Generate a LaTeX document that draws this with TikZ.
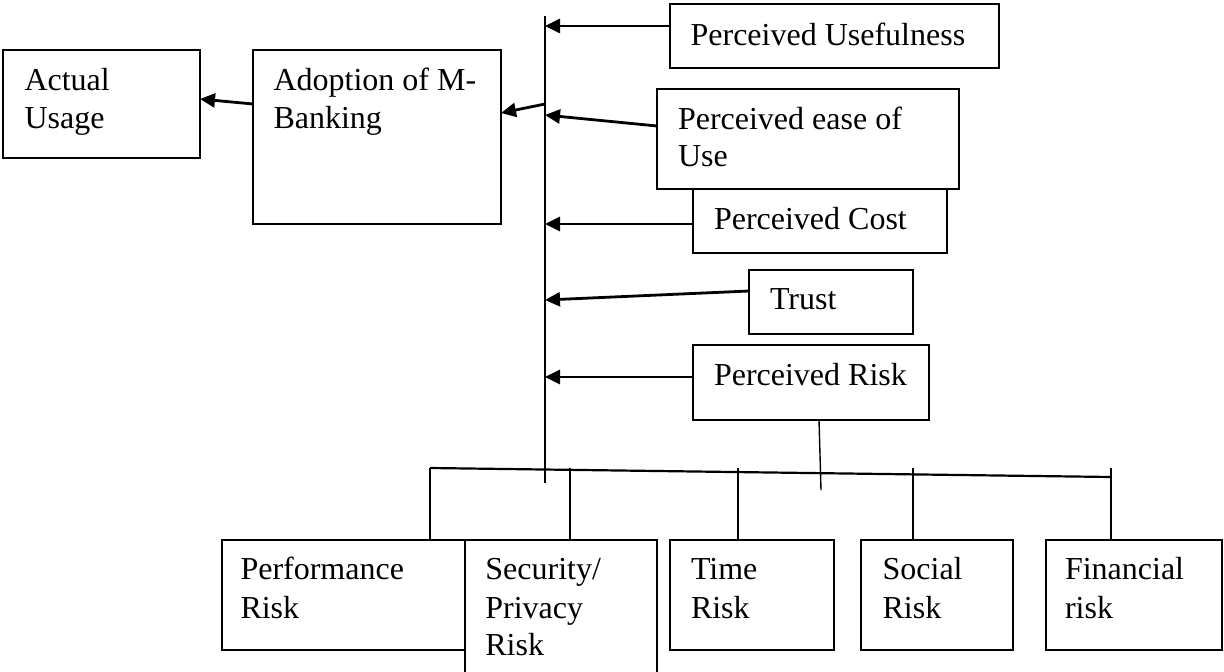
\documentclass[tikz,border=0pt]{standalone}
\usepackage{fontspec}
\setmainfont{Liberation Serif}
\usetikzlibrary{arrows.meta}
\begin{document}
\begin{tikzpicture}[x=1pt,y=-1pt,
  box/.style={draw, line width=1.8pt, inner sep=0pt, outer sep=0pt, anchor=north west},
  txt/.style={inner sep=0pt, outer sep=0pt, anchor=base west, font=\fontsize{32}{38}\selectfont},
  arr/.style={line width=2.8pt, -{Triangle[length=15pt,width=14pt]}},
  link/.style={line width=1.4pt},
  bus/.style={line width=2.2pt}]
\useasboundingbox (0,0) rectangle (1224,672);
\clip (0,0) rectangle (1224,672);

% outcome boxes
\node[box, minimum width=197pt, minimum height=108pt] (au) at (3,50) {};
\node[box, minimum width=248pt, minimum height=174pt] (ad) at (253,50) {};
\node[txt] (au1) at (24.5,90) {Actual};
\node[txt] (au2) at (24.5,128) {Usage};
\node[txt] (ad1) at (273.5,90) {Adoption of M-};
\node[txt] (ad2) at (273.5,128) {Banking};

% determinants
\node[box, minimum width=329pt, minimum height=64pt] (pu) at (670,4) {};
\node[box, minimum width=302pt, minimum height=100pt] (peu) at (657,89) {};
\node[box, minimum width=254pt, minimum height=64pt] (pc) at (693,189) {};
\node[box, minimum width=164pt, minimum height=64pt] (tr) at (749,270) {};
\node[box, minimum width=236pt, minimum height=75pt] (pr) at (693,345) {};
\node[txt] (pu1) at (690.6,45) {Perceived Usefulness};
\node[txt] (peu1) at (678,129) {Perceived ease of};
\node[txt] (peu2) at (678,166) {Use};
\node[txt] (pc1) at (714,229) {Perceived Cost};
\node[txt] (tr1) at (770,309) {Trust};
\node[txt] (pr1) at (714,385) {Perceived Risk};

% risk dimensions
\node[box, minimum width=243pt, minimum height=110pt] (perf) at (222,540) {};
\node[box, minimum width=192pt, minimum height=150pt] (sec) at (465,540) {};
\node[box, minimum width=164pt, minimum height=110pt] (time) at (670,540) {};
\node[box, minimum width=152pt, minimum height=110pt] (soc) at (861,540) {};
\node[box, minimum width=176pt, minimum height=110pt] (fin) at (1046,540) {};
\node[txt] (perf1) at (240.5,579) {Performance};
\node[txt] (perf2) at (240.5,618) {Risk};
\node[txt] (sec1) at (485.4,579) {Security/};
\node[txt] (sec2) at (485.4,618) {Privacy};
\node[txt] (sec3) at (485.4,655) {Risk};
\node[txt] (time1) at (691,579) {Time};
\node[txt] (time2) at (691,618) {Risk};
\node[txt] (soc1) at (882.6,579) {Social};
\node[txt] (soc2) at (882.6,618) {Risk};
\node[txt] (fin1) at (1065,579) {Financial};
\node[txt] (fin2) at (1065,618) {risk};

% collecting line and its end points
\coordinate (vtop) at (545,16);
\coordinate (vbot) at (545,483);
\coordinate (b0) at (545,104);
\coordinate (b1) at (545,26);
\coordinate (b2) at (545,115);
\coordinate (b3) at (545,224);
\coordinate (b4) at (545,300);
\coordinate (b5) at (545,377);
\draw[link] (vtop) -- (vbot);

% arrows
\draw[arr] (ad.west |- 0,104) -- (au.east |- 0,99);
\draw[arr] (b0) -- (ad.east |- 0,113);
\draw[arr] (pu.west |- 0,26) -- (b1);
\draw[arr] (peu.west |- 0,126) -- (b2);
\draw[arr] (pc.west |- 0,224) -- (b3);
\draw[arr] (tr.west |- 0,291) -- (b4);
\draw[arr] (pr.west |- 0,377) -- (b5);

% branching to the risk dimensions
\coordinate (busl) at (430,468);
\coordinate (busr) at (1111,477);
\coordinate (drop) at (821,490);
\draw[link] (pr.south -| 819,0) -- (drop);
\draw[bus] (busl) -- (busr);
\draw[link] (busl) -- (perf.north -| busl);
\draw[link] (570,468) -- (sec.north -| 570,0);
\draw[link] (738,468) -- (time.north -| 738,0);
\draw[link] (913,468) -- (soc.north -| 913,0);
\draw[link] (1111,468) -- (fin.north -| 1111,0);
\end{tikzpicture}
\end{document}
